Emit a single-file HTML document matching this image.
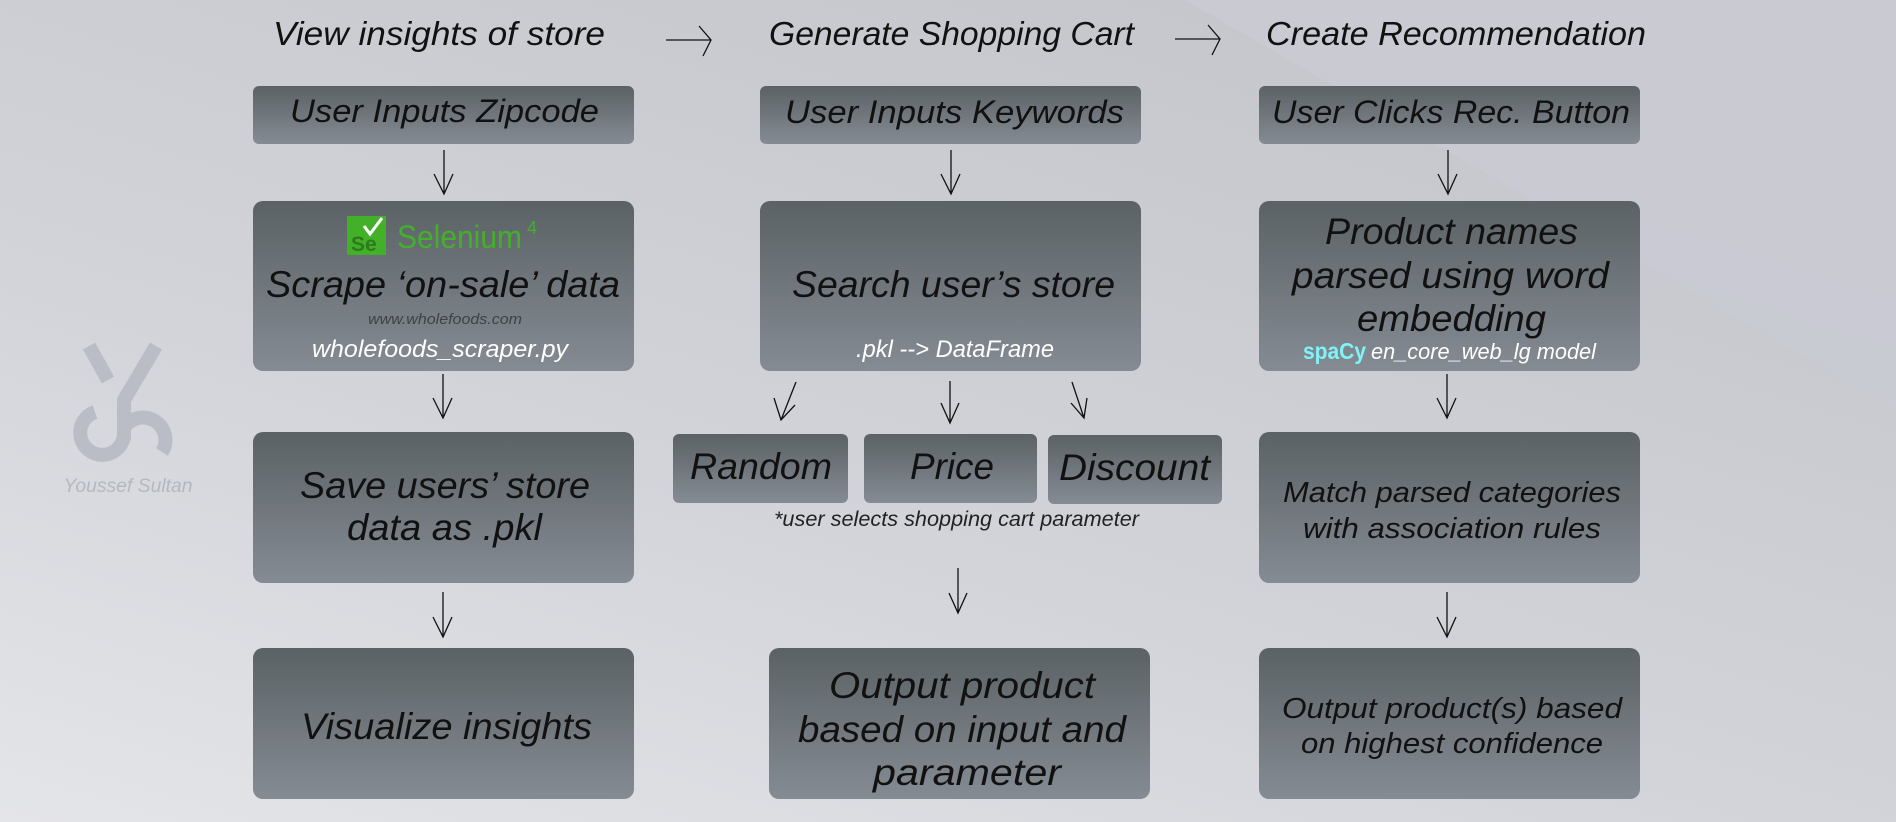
<!DOCTYPE html>
<html><head><meta charset="utf-8"><style>
html,body{margin:0;padding:0;width:1896px;height:822px;overflow:hidden;background:#c8cad1}
svg{display:block}
text{font-family:"Liberation Sans Narrow","Liberation Sans",sans-serif;font-style:italic}
</style></head><body>
<svg width="1896" height="822" viewBox="0 0 1896 822" xmlns="http://www.w3.org/2000/svg">
<defs>
<linearGradient id="bg" x1="0" y1="1" x2="0.7" y2="0">
<stop offset="0" stop-color="#e4e5e8"/><stop offset="0.45" stop-color="#d2d4da"/><stop offset="1" stop-color="#c5c6cc"/>
</linearGradient>
<linearGradient id="bx" x1="0" y1="0" x2="0" y2="1">
<stop offset="0" stop-color="#5b6265"/><stop offset="1" stop-color="#858b93"/>
</linearGradient>
</defs>
<rect width="1896" height="822" fill="url(#bg)"/>
<polygon points="1185,0 1896,0 1896,410" fill="#c9cbd3" opacity="0.8"/>

<!-- logo -->
<g fill="none" stroke="#babdc6" stroke-width="14">
<path d="M89,346 L108,380"/>
<path d="M156,346 L124,400 L124,440"/>
<path d="M95,412 A22,22 0 1 0 124,436"/>
<path d="M124,428 A22,22 0 0 1 162,452"/>
</g>
<text x="128" y="492" text-anchor="middle" font-size="19" fill="#b4b8c0" textLength="129" lengthAdjust="spacingAndGlyphs">Youssef Sultan</text>

<!-- headers -->
<g font-size="33" fill="#111">
<text x="273" y="45" textLength="332" lengthAdjust="spacingAndGlyphs">View insights of store</text>
<text x="769" y="45" textLength="365" lengthAdjust="spacingAndGlyphs">Generate Shopping Cart</text>
<text x="1266" y="45" textLength="380" lengthAdjust="spacingAndGlyphs">Create Recommendation</text>
</g>

<!-- boxes -->
<g fill="url(#bx)">
<rect x="253" y="86" width="381" height="58" rx="6"/>
<rect x="760" y="86" width="381" height="58" rx="6"/>
<rect x="1259" y="86" width="381" height="58" rx="6"/>
<rect x="253" y="201" width="381" height="170" rx="10"/>
<rect x="760" y="201" width="381" height="170" rx="10"/>
<rect x="1259" y="201" width="381" height="170" rx="10"/>
<rect x="253" y="432" width="381" height="151" rx="10"/>
<rect x="1259" y="432" width="381" height="151" rx="10"/>
<rect x="673" y="434" width="175" height="69" rx="6"/>
<rect x="864" y="434" width="173" height="69" rx="6"/>
<rect x="1048" y="435" width="174" height="69" rx="6"/>
<rect x="253" y="648" width="381" height="151" rx="10"/>
<rect x="769" y="648" width="381" height="151" rx="10"/>
<rect x="1259" y="648" width="381" height="151" rx="10"/>
</g>

<!-- arrows -->
<g fill="none" stroke="#111" stroke-width="1.3">
<path d="M666,40 H711 M699,26 L711,40 L703,56"/>
<path d="M1175,39 H1220 M1208,25 L1220,39 L1212,55"/>
<path d="M444,150 V194 M434,174 L444,194 L453,174"/>
<path d="M443,374 V418 M433,398 L443,418 L452,398"/>
<path d="M443,592 V637 M433,617 L443,637 L452,617"/>
<path d="M951,150 V194 M941,174 L951,194 L960,174"/>
<path d="M796,382 L781,420 M774,398 L781,420 L795,405"/>
<path d="M950,381 V423 M941,403 L950,423 L959,403"/>
<path d="M1072,382 L1084,418 M1071,403 L1084,418 L1087,398"/>
<path d="M958,568 V613 M949,593 L958,613 L967,593"/>
<path d="M1448,150 V194 M1438,174 L1448,194 L1457,174"/>
<path d="M1447,374 V418 M1437,398 L1447,418 L1456,398"/>
<path d="M1447,592 V637 M1437,617 L1447,637 L1456,617"/>
</g>

<!-- selenium logo -->
<rect x="347" y="216" width="39" height="39" fill="#43b02a"/>
<text x="351" y="251" font-size="21" style="font-style:normal" fill="#2d7a1c" font-weight="bold">Se</text>
<path d="M364,226 L370,234 L382,218" stroke="#fff" stroke-width="3" fill="none"/>
<text x="397" y="248" font-size="32" style="font-style:normal" fill="#43b02a" textLength="125" lengthAdjust="spacingAndGlyphs">Selenium</text>
<text x="527" y="234" font-size="18" style="font-style:normal" fill="#43b02a">4</text>

<!-- box text -->
<g fill="#111" font-size="32">
<text x="290" y="122" textLength="309" lengthAdjust="spacingAndGlyphs">User Inputs Zipcode</text>
<text x="785" y="123" textLength="339" lengthAdjust="spacingAndGlyphs">User Inputs Keywords</text>
<text x="1272" y="123" textLength="358" lengthAdjust="spacingAndGlyphs">User Clicks Rec. Button</text>
</g>
<g fill="#111" font-size="37">
<text x="266" y="297" textLength="354" lengthAdjust="spacingAndGlyphs">Scrape ‘on-sale’ data</text>
<text x="792" y="297" textLength="323" lengthAdjust="spacingAndGlyphs">Search user’s store</text>
<text x="1325" y="244" textLength="253" lengthAdjust="spacingAndGlyphs">Product names</text>
<text x="1292" y="288" textLength="317" lengthAdjust="spacingAndGlyphs">parsed using word</text>
<text x="1357" y="331" textLength="189" lengthAdjust="spacingAndGlyphs">embedding</text>
<text x="300" y="498" textLength="290" lengthAdjust="spacingAndGlyphs">Save users’ store</text>
<text x="347" y="540" textLength="195" lengthAdjust="spacingAndGlyphs">data as .pkl</text>
<text x="690" y="479" textLength="142" lengthAdjust="spacingAndGlyphs">Random</text>
<text x="910" y="479" textLength="84" lengthAdjust="spacingAndGlyphs">Price</text>
<text x="1059" y="480" textLength="151" lengthAdjust="spacingAndGlyphs">Discount</text>
<text x="301" y="739" textLength="291" lengthAdjust="spacingAndGlyphs">Visualize insights</text>
<text x="829" y="698" textLength="266" lengthAdjust="spacingAndGlyphs">Output product</text>
<text x="798" y="742" textLength="328" lengthAdjust="spacingAndGlyphs">based on input and</text>
<text x="873" y="785" textLength="188" lengthAdjust="spacingAndGlyphs">parameter</text>
</g>
<g fill="#111" font-size="29">
<text x="1283" y="502" textLength="338" lengthAdjust="spacingAndGlyphs">Match parsed categories</text>
<text x="1303" y="538" textLength="298" lengthAdjust="spacingAndGlyphs">with association rules</text>
<text x="1282" y="718" textLength="340" lengthAdjust="spacingAndGlyphs">Output product(s) based</text>
<text x="1301" y="753" textLength="302" lengthAdjust="spacingAndGlyphs">on highest confidence</text>
</g>
<text x="368" y="324" font-size="15" fill="#3c4246" textLength="154" lengthAdjust="spacingAndGlyphs">www.wholefoods.com</text>
<text x="312" y="357" font-size="24" fill="#fff" textLength="256" lengthAdjust="spacingAndGlyphs">wholefoods_scraper.py</text>
<text x="856" y="357" font-size="24" fill="#fff" textLength="198" lengthAdjust="spacingAndGlyphs">.pkl --&gt; DataFrame</text>
<text x="1303" y="359" font-size="23" style="font-style:normal" font-weight="bold" fill="#7ff3f5" textLength="63" lengthAdjust="spacingAndGlyphs">spaCy</text>
<text x="1371" y="359" font-size="22" fill="#fff" textLength="225" lengthAdjust="spacingAndGlyphs">en_core_web_lg model</text>
<text x="774" y="526" font-size="21" fill="#222" textLength="365" lengthAdjust="spacingAndGlyphs">*user selects shopping cart parameter</text>
</svg>
</body></html>
